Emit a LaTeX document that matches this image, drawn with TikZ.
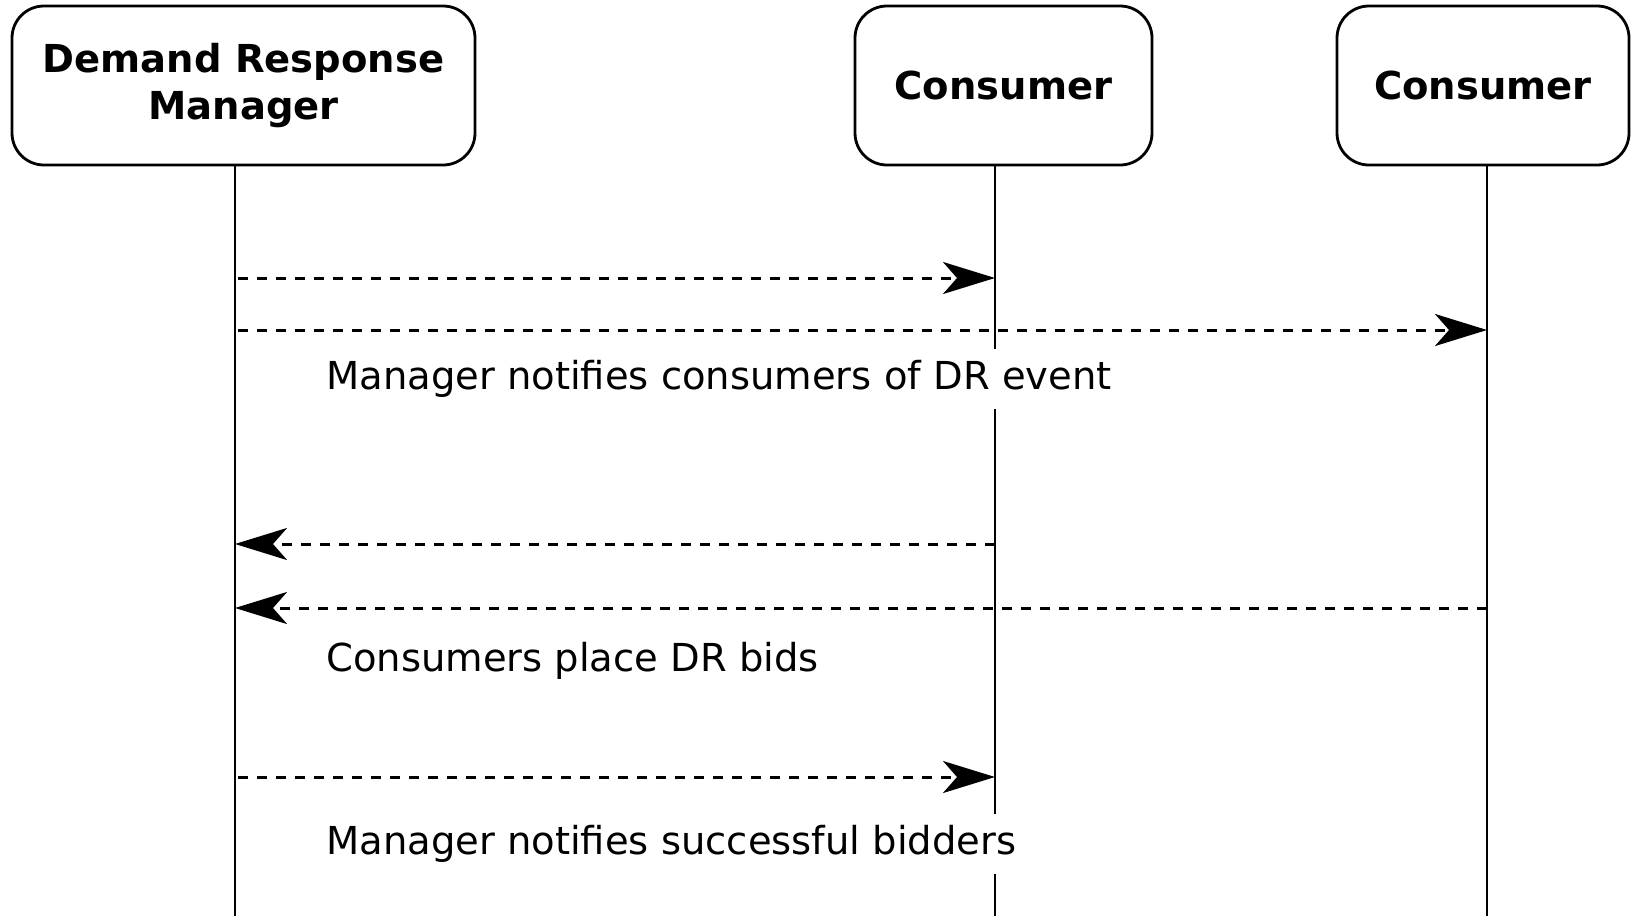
\documentclass[tikz,border=0pt]{standalone}
\usepackage{fontspec}
\setmainfont{DejaVu Sans}
\usetikzlibrary{arrows.meta}
\begin{document}
\begin{tikzpicture}[x=1pt,y=-1pt,
  actor/.style={draw,line width=2.8pt,rounded corners=32pt,align=center,
    font=\fontsize{38.5}{47}\selectfont\bfseries,inner sep=0pt},
  lifeline/.style={line width=2.8pt},
  msg/.style={line width=3pt,dash pattern=on 10pt off 9pt,
    -{Stealth[length=52pt,width=32pt,inset=14pt]}},
  note/.style={fill=white,anchor=west,inner xsep=4pt,inner ysep=11pt,
    font=\fontsize{38.5}{46}\selectfont}]
\useasboundingbox (0,0) rectangle (1633,916);
% actors
\node[actor,minimum width=463pt,minimum height=159pt] (drm) at (243.5,85.5) {Demand Response\\Manager};
\node[actor,minimum width=297pt,minimum height=159pt] (c1) at (1003.5,85.5) {Consumer};
\node[actor,minimum width=292pt,minimum height=159pt] (c2) at (1483,85.5) {Consumer};
% lifeline coordinates
\coordinate (l1t) at (235,165);  \coordinate (l1b) at (235,916);
\coordinate (l2t) at (995,165);  \coordinate (l2b) at (995,916);
\coordinate (l3t) at (1487,165); \coordinate (l3b) at (1487,916);
\draw[lifeline] (l1t) -- (l1b);
\draw[lifeline] (l2t) -- (l2b);
\draw[lifeline] (l3t) -- (l3b);
% message endpoints
\coordinate (a1s) at (238,278); \coordinate (a1e) at (995,278);
\coordinate (a2s) at (238,330); \coordinate (a2e) at (1487,330);
\coordinate (a3s) at (995,544); \coordinate (a3e) at (235,544);
\coordinate (a4s) at (1487,608); \coordinate (a4e) at (235,608);
\coordinate (a5s) at (238,777); \coordinate (a5e) at (995,777);
\draw[msg] (a1s) -- (a1e);
\draw[msg] (a2s) -- (a2e);
\draw[msg] (a3s) -- (a3e);
\draw[msg] (a4s) -- (a4e);
\draw[msg] (a5s) -- (a5e);
% labels
\node[note] (n1) at (322,379) {Manager notifies consumers of DR event};
\node[note] (n2) at (322,661) {Consumers place DR bids};
\node[note] (n3) at (322,844) {Manager notifies successful bidders};
\end{tikzpicture}
\end{document}
